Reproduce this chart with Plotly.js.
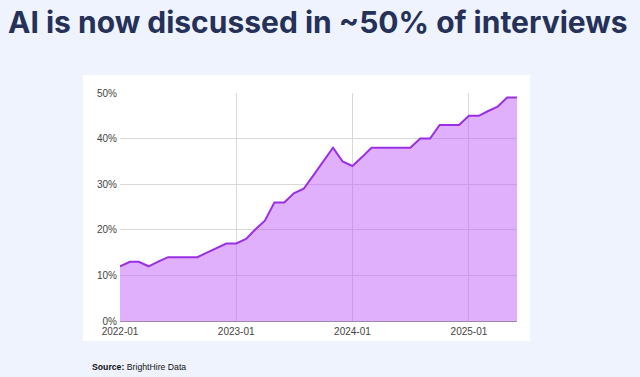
<!DOCTYPE html>
<html>
<head>
<meta charset="utf-8">
<script src="https://cdn.plot.ly/plotly-3.0.1.min.js"></script>
<style>
  html, body { margin: 0; padding: 0; background: #eef3fd; }
  #chart { width: 640px; height: 377px; }
</style>
</head>
<body>
<div id="chart"></div>
<script>
const months = [
  "2022-01","2022-02","2022-03","2022-04","2022-05","2022-06","2022-07","2022-08","2022-09","2022-10","2022-11","2022-12",
  "2023-01","2023-02","2023-03","2023-04","2023-05","2023-06","2023-07","2023-08","2023-09","2023-10","2023-11","2023-12",
  "2024-01","2024-02","2024-03","2024-04","2024-05","2024-06","2024-07","2024-08","2024-09","2024-10","2024-11","2024-12",
  "2025-01","2025-02","2025-03","2025-04","2025-05","2025-06"
];
const shareAI = [
  0.12,0.13,0.13,0.12,0.13,0.14,0.14,0.14,0.14,0.15,0.16,0.17,
  0.17,0.18,0.20,0.22,0.26,0.26,0.28,0.29,0.32,0.35,0.38,0.35,
  0.34,0.36,0.38,0.38,0.38,0.38,0.38,0.40,0.40,0.43,0.43,0.43,
  0.45,0.45,0.46,0.47,0.49,0.49
];
const xTickVals = ["2022-01-01","2023-01-01","2024-01-01","2025-01-01"];
const xTickText = ["2022-01","2023-01","2024-01","2025-01"];
const yTickVals = [0,0.1,0.2,0.3,0.4,0.5];
const yTickText = ["0%","10%","20%","30%","40%","50%"];
const titleText = "AI is now discussed in ~50% of interviews";
const sourceText = "<b>Source:</b> BrightHire Data";

const trace = {
  x: months.map(m => m + "-01"),
  y: shareAI,
  type: "scatter",
  mode: "lines",
  fill: "tozeroy",
  fillcolor: "rgba(190,90,250,0.48)",
  line: { color: "#9b2fe6", width: 2 },
  hoverinfo: "skip"
};

const layout = {
  width: 640, height: 377,
  margin: { l: 0, r: 0, t: 0, b: 0 },
  paper_bgcolor: "#eef3fd",
  plot_bgcolor: "rgba(0,0,0,0)",
  showlegend: false,
  font: { family: "Arial, Liberation Sans, sans-serif", color: "#444", size: 10 },
  shapes: [{
    type: "rect", xref: "paper", yref: "paper", layer: "below",
    x0: 83/640, x1: 530/640, y0: 1 - 341/377, y1: 1 - 75/377,
    fillcolor: "#ffffff", line: { width: 0 }
  }],
  annotations: [
    {
      text: "<b>" + titleText + "</b>", xref: "paper", yref: "paper",
      x: 6/640, y: 1 - 22/377, xanchor: "left", yanchor: "middle", showarrow: false,
      font: { family: "Inter, Open Sans, sans-serif", size: 30, color: "#263159" }
    },
    {
      text: sourceText, xref: "paper", yref: "paper",
      x: 90/640, y: 1 - 367/377, xanchor: "left", yanchor: "middle", showarrow: false,
      font: { family: "Arial, Liberation Sans, sans-serif", size: 8.7, color: "#111" }
    }
  ],
  xaxis: {
    type: "date",
    domain: [120/640, 517/640],
    range: ["2022-01-01", "2025-06-01"],
    tickvals: xTickVals, ticktext: xTickText,
    showgrid: true, gridcolor: "#d9d9d9", gridwidth: 1,
    zeroline: false, showline: false,
    ticks: "", ticklen: 0, ticklabelstandoff: 3,
    tickfont: { size: 10, color: "#444" },
    fixedrange: true
  },
  yaxis: {
    domain: [1 - 321/377, 1 - 93/377],
    range: [0, 0.5],
    tickvals: yTickVals, ticktext: yTickText,
    showgrid: true, gridcolor: "#d9d9d9", gridwidth: 1,
    zeroline: true, zerolinecolor: "#9a8aa8", zerolinewidth: 1,
    showline: false, ticks: "", ticklabelstandoff: 2,
    tickfont: { size: 10, color: "#444" },
    fixedrange: true
  }
};

Plotly.newPlot("chart", [trace], layout, { displayModeBar: false, staticPlot: true });
</script>
</body>
</html>
